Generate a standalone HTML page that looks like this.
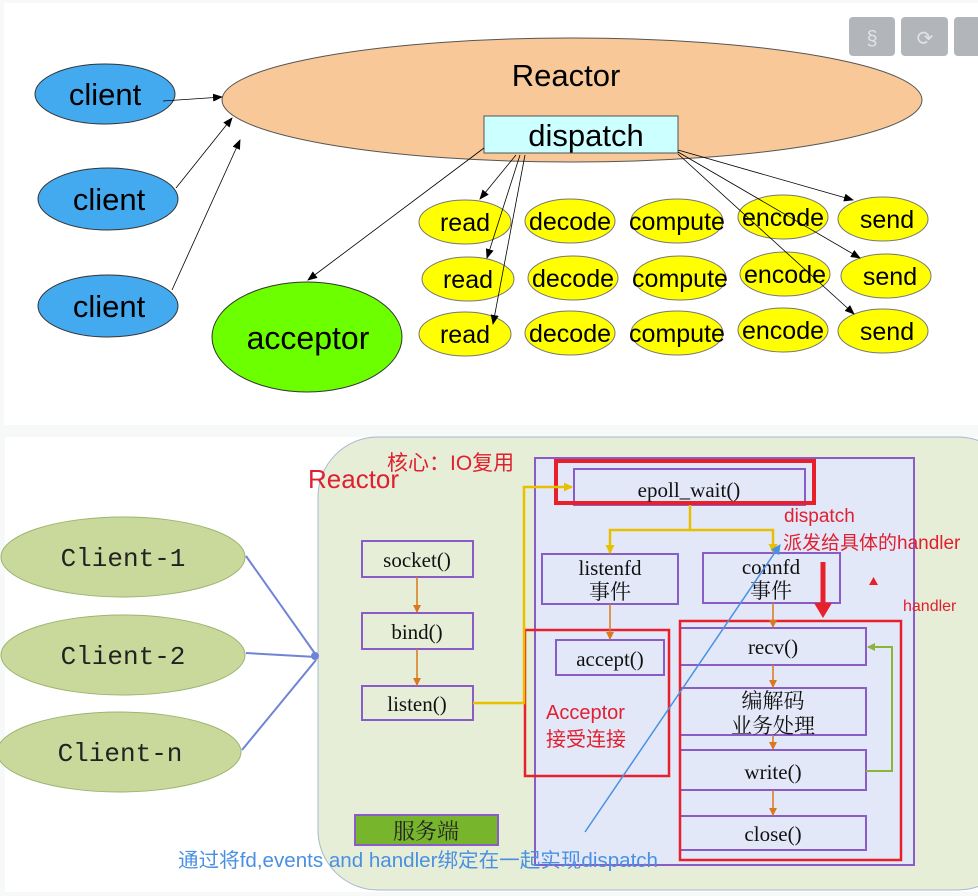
<!DOCTYPE html>
<html><head><meta charset="utf-8"><style>
html,body{margin:0;padding:0;background:#f7f8f8;}
svg{display:block}
</style></head><body>
<svg width="978" height="896" xmlns="http://www.w3.org/2000/svg" font-family="Liberation Sans, Noto Sans CJK SC, sans-serif">
<defs>
<marker id="a" markerWidth="10" markerHeight="8" refX="9" refY="4" orient="auto" markerUnits="userSpaceOnUse"><path d="M0,0 L10,4 L0,8 z" fill="#000"/></marker>
<marker id="o" markerWidth="8" markerHeight="8" refX="7" refY="4" orient="auto" markerUnits="userSpaceOnUse"><path d="M0,0 L8,4 L0,8 z" fill="#d9781e"/></marker>
<marker id="y" markerWidth="9" markerHeight="9" refX="8" refY="4.5" orient="auto" markerUnits="userSpaceOnUse"><path d="M0,0 L9,4.5 L0,9 z" fill="#e8c000"/></marker>
<marker id="g" markerWidth="8" markerHeight="8" refX="7" refY="4" orient="auto" markerUnits="userSpaceOnUse"><path d="M0,0 L8,4 L0,8 z" fill="#8ab43a"/></marker>
<marker id="b" markerWidth="10" markerHeight="10" refX="9" refY="5" orient="auto" markerUnits="userSpaceOnUse"><path d="M0,0 L10,5 L0,10 z" fill="#4a90e2"/></marker>
</defs>
<rect x="4" y="3" width="974" height="422" fill="#fff"/>
<rect x="5" y="437" width="973" height="455" fill="#fff"/>
<rect x="849" y="17" width="46" height="39" rx="4" fill="#b2b6ba"/>
<rect x="901" y="17" width="47" height="39" rx="4" fill="#b2b6ba"/>
<rect x="954" y="17" width="30" height="39" rx="4" fill="#b2b6ba"/>
<text x="872" y="45" font-size="20" fill="#e0e3e6" text-anchor="middle">§</text>
<text x="925" y="45" font-size="20" fill="#e0e3e6" text-anchor="middle">⟳</text>
<ellipse cx="572" cy="100" rx="350" ry="62" fill="#f8c898" stroke="#555" stroke-width="1"/>
<text x="566" y="86" font-size="31" text-anchor="middle">Reactor</text>
<rect x="484" y="116" width="194" height="37" fill="#ccffff" stroke="#555"/>
<text x="586" y="146" font-size="31" text-anchor="middle">dispatch</text>
<g fill="#44aaf0" stroke="#333">
<ellipse cx="105" cy="94" rx="70" ry="30"/><ellipse cx="108" cy="199" rx="70" ry="31"/><ellipse cx="108" cy="306" rx="70" ry="31"/></g>
<g font-size="31" text-anchor="middle"><text x="105" y="105">client</text><text x="109" y="210">client</text><text x="109" y="317">client</text></g>
<ellipse cx="307" cy="337" rx="95" ry="55" fill="#6cff00" stroke="#333"/>
<text x="308" y="349" font-size="32" text-anchor="middle">acceptor</text>
<g fill="#ffff00" stroke="#777">
<ellipse cx="465" cy="222" rx="46" ry="22"/><ellipse cx="570" cy="221" rx="45" ry="22"/><ellipse cx="677" cy="221" rx="46" ry="22"/><ellipse cx="783" cy="217" rx="45" ry="22"/><ellipse cx="883" cy="219" rx="45" ry="22"/>
<ellipse cx="468" cy="279" rx="46" ry="22"/><ellipse cx="573" cy="278" rx="45" ry="22"/><ellipse cx="680" cy="278" rx="46" ry="22"/><ellipse cx="785" cy="274" rx="45" ry="22"/><ellipse cx="886" cy="276" rx="45" ry="22"/>
<ellipse cx="465" cy="334" rx="46" ry="22"/><ellipse cx="570" cy="333" rx="45" ry="22"/><ellipse cx="677" cy="333" rx="46" ry="22"/><ellipse cx="783" cy="330" rx="45" ry="22"/><ellipse cx="883" cy="331" rx="45" ry="22"/></g>
<g font-size="25" text-anchor="middle">
<text x="465" y="231">read</text><text x="570" y="230">decode</text><text x="677" y="230">compute</text><text x="783" y="226">encode</text><text x="887" y="228">send</text>
<text x="468" y="288">read</text><text x="573" y="287">decode</text><text x="680" y="287">compute</text><text x="785" y="283">encode</text><text x="890" y="285">send</text>
<text x="465" y="343">read</text><text x="570" y="342">decode</text><text x="677" y="342">compute</text><text x="783" y="339">encode</text><text x="887" y="340">send</text></g>
<g stroke="#000" stroke-width="0.8" fill="none" marker-end="url(#a)">
<line x1="163" y1="101" x2="222" y2="97"/>
<line x1="176" y1="188" x2="232" y2="118"/>
<line x1="172" y1="290" x2="240" y2="140"/>
<line x1="484" y1="148" x2="308" y2="280"/>
<line x1="516" y1="155" x2="480" y2="199"/>
<line x1="520" y1="155" x2="487" y2="258"/>
<line x1="525" y1="155" x2="493" y2="324"/>
<line x1="678" y1="150" x2="853" y2="200"/>
<line x1="678" y1="152" x2="860" y2="258"/>
<line x1="678" y1="154" x2="854" y2="314"/>
</g>
<rect x="318" y="437" width="700" height="453" rx="60" fill="#e6eed7" stroke="#a8b8cc"/>
<g fill="#c9d99b" stroke="#9eb470">
<ellipse cx="123" cy="557" rx="122" ry="40"/><ellipse cx="123" cy="655" rx="122" ry="40"/><ellipse cx="119" cy="752" rx="122" ry="40"/></g>
<g font-family="Liberation Mono, monospace" font-size="26" text-anchor="middle" fill="#222">
<text x="123" y="566">Client-1</text><text x="123" y="664">Client-2</text><text x="120" y="761">Client-n</text></g>
<g stroke="#6f83d8" stroke-width="2" fill="none">
<line x1="246" y1="556" x2="316" y2="655"/><line x1="246" y1="653" x2="316" y2="657"/><line x1="242" y1="750" x2="316" y2="660"/></g>
<circle cx="315" cy="656" r="4" fill="#6f83d8"/>
<text x="308" y="488" font-size="26" fill="#e02030">Reactor</text>
<text x="387" y="470" font-size="21" fill="#e02030">核心：IO复用</text>
<rect x="535" y="458" width="379" height="407" fill="#e2e8f8" stroke="#8a5cc8" stroke-width="2"/>
<g fill="none" stroke="#8a5cc8" stroke-width="2">
<rect x="362" y="541" width="111" height="36"/><rect x="362" y="613" width="111" height="36"/><rect x="362" y="686" width="111" height="34"/>
<rect x="574" y="469" width="231" height="36"/>
<rect x="542" y="554" width="136" height="50"/><rect x="703" y="553" width="137" height="50"/>
<rect x="556" y="640" width="108" height="35"/>
<rect x="680" y="628" width="186" height="37"/><rect x="680" y="688" width="186" height="47"/><rect x="680" y="750" width="186" height="40"/><rect x="680" y="816" width="186" height="34"/></g>
<rect x="556" y="461" width="258" height="42" fill="none" stroke="#e8202c" stroke-width="4"/>
<rect x="525" y="630" width="144" height="146" fill="none" stroke="#e8202c" stroke-width="2.5"/>
<rect x="680" y="621" width="221" height="239" fill="none" stroke="#e8202c" stroke-width="2.5"/>
<g font-family="Liberation Serif, Noto Serif CJK SC, serif" font-size="21" text-anchor="middle" fill="#111">
<text x="417" y="567">socket()</text><text x="417" y="639">bind()</text><text x="417" y="711">listen()</text>
<text x="689" y="497">epoll_wait()</text>
<text x="610" y="575">listenfd</text><text x="610" y="599">事件</text>
<text x="771" y="574">connfd</text><text x="771" y="598">事件</text>
<text x="610" y="666">accept()</text>
<text x="773" y="654">recv()</text><text x="773" y="708">编解码</text><text x="773" y="733">业务处理</text>
<text x="773" y="779">write()</text><text x="773" y="841">close()</text></g>
<rect x="355" y="815" width="143" height="30" fill="#77b52c" stroke="#8a5cc8" stroke-width="2"/>
<text x="426" y="839" font-size="22" text-anchor="middle" fill="#222" font-family="Liberation Serif, Noto Serif CJK SC, serif">服务端</text>
<g stroke="#d9781e" stroke-width="1.5" marker-end="url(#o)">
<line x1="417" y1="577" x2="417" y2="612"/><line x1="417" y1="649" x2="417" y2="685"/>
<line x1="610" y1="604" x2="610" y2="639"/><line x1="773" y1="603" x2="773" y2="627"/>
<line x1="773" y1="665" x2="773" y2="687"/><line x1="773" y1="735" x2="773" y2="749"/><line x1="773" y1="790" x2="773" y2="815"/></g>
<g stroke="#e8c000" stroke-width="2.5" fill="none">
<polyline points="473,703 524,703 524,487 572,487" marker-end="url(#y)"/>
<polyline points="690,505 690,530 610,530 610,553" marker-end="url(#y)"/>
<polyline points="690,530 773,530 773,552" marker-end="url(#y)"/></g>
<polyline points="866,771 892,771 892,647 868,647" fill="none" stroke="#8ab43a" stroke-width="2" marker-end="url(#g)"/>
<line x1="585" y1="832" x2="780" y2="545" stroke="#4a90e2" stroke-width="1.5" marker-end="url(#b)"/>
<line x1="823" y1="562" x2="823" y2="605" stroke="#e8202c" stroke-width="5"/>
<path d="M814,603 L832,603 L823,618 z" fill="#e8202c"/>
<path d="M869,585 L878,585 L873.5,577 z" fill="#e8202c"/>
<g fill="#e02030" font-size="19"><text x="784" y="522">dispatch</text><text x="783" y="549">派发给具体的handler</text>
<text x="903" y="611" font-size="16">handler</text>
<text x="546" y="719" font-size="20">Acceptor</text><text x="546" y="746" font-size="20">接受连接</text></g>
<text x="178" y="867" font-size="20" fill="#4a90e2" textLength="480" lengthAdjust="spacingAndGlyphs">通过将fd,events and handler绑定在一起实现dispatch</text>
</svg>
</body></html>
